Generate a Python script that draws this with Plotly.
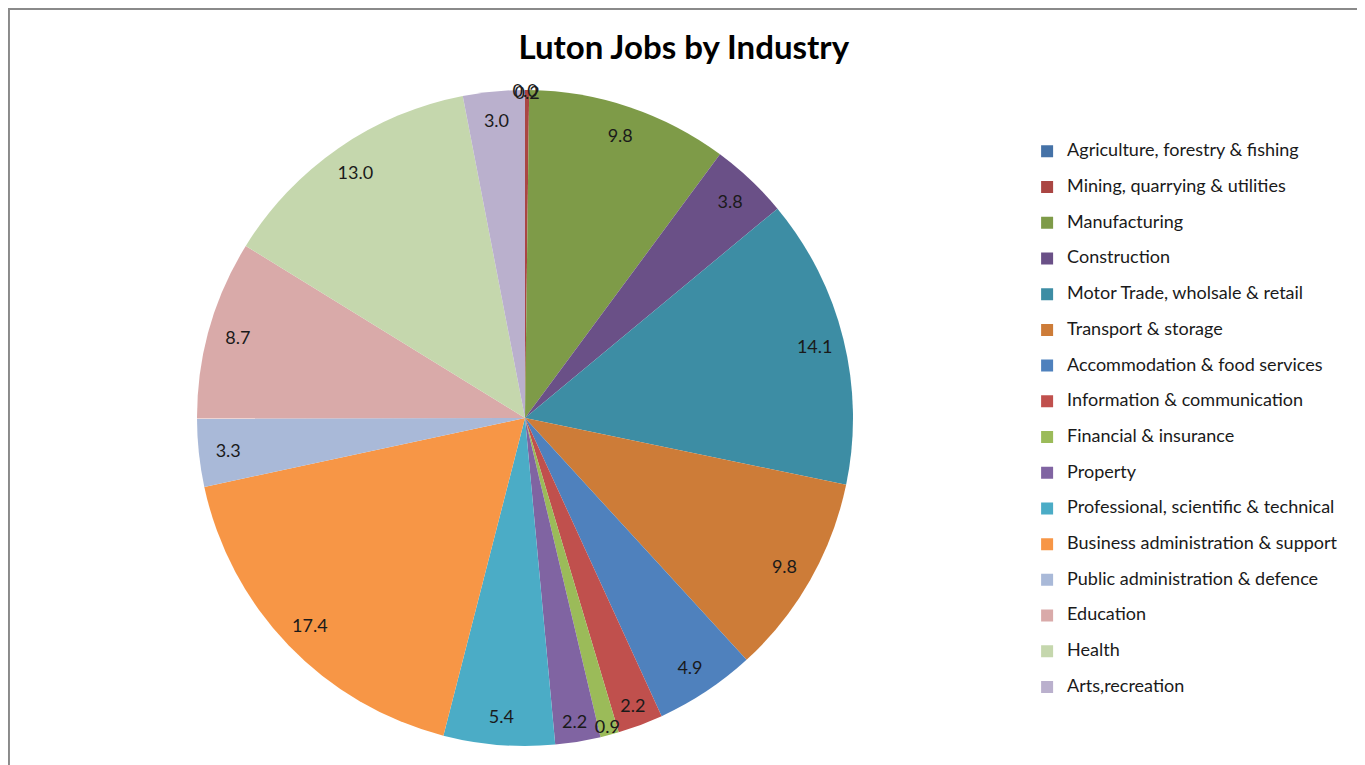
import plotly.graph_objects as go

categories = [
    "Agriculture, forestry & fishing",
    "Mining, quarrying & utilities",
    "Manufacturing",
    "Construction",
    "Motor Trade, wholsale & retail",
    "Transport & storage",
    "Accommodation & food services",
    "Information & communication",
    "Financial & insurance",
    "Property",
    "Professional, scientific & technical",
    "Business administration & support",
    "Public administration & defence",
    "Education",
    "Health",
    "Arts,recreation",
]
values = [0.0, 0.2, 9.8, 3.8, 14.1, 9.8, 4.9, 2.2, 0.9, 2.2, 5.4, 17.4, 3.3, 8.7, 13.0, 3.0]
colors = [
    "#4572A7", "#AA4643", "#7E9B48", "#6A5087", "#3D8DA4", "#CD7C38",
    "#4F81BD", "#C0504D", "#9BBB59", "#8064A2", "#4BACC6", "#F79646",
    "#A9B9D8", "#D9AAA9", "#C5D7AD", "#BAB0CD",
]

FONT = "Lato, Open Sans, sans-serif"
legend_labels = ["<span style='font-size:18px'>" + c + "</span><br>&nbsp;" for c in categories]
pie_domain = dict(x=[0.13928, 0.62270], y=[0.0251, 0.8917])

fig = go.Figure()
fig.add_trace(go.Pie(
    labels=legend_labels,
    values=values,
    sort=False,
    direction="clockwise",
    rotation=0,
    marker=dict(colors=colors, line=dict(width=0)),
    textinfo="none",
    hoverinfo="skip",
    domain=pie_domain,
    showlegend=True,
))
# transparent ring that carries the data labels near the outer edge
fig.add_trace(go.Pie(
    labels=categories,
    values=values,
    sort=False,
    direction="clockwise",
    rotation=0,
    hole=0.82,
    marker=dict(colors=["rgba(0,0,0,0)"] * len(values), line=dict(width=0)),
    texttemplate="%{value:.1f}",
    textposition="inside",
    insidetextorientation="horizontal",
    textfont=dict(family=FONT, size=18, color="#1a1a1a"),
    hovertemplate="%{label}: %{value:.1f}<extra></extra>",
    domain=pie_domain,
    showlegend=False,
))

fig.update_layout(
    width=1357, height=757,
    margin=dict(l=0, r=0, t=0, b=0),
    paper_bgcolor="white",
    title=dict(text="<b>Luton Jobs by Industry</b>", x=0.498, xanchor="center",
               y=0.9485, yanchor="middle",
               font=dict(family=FONT, size=33, color="#000000")),
    legend=dict(x=0.7510, xanchor="left", y=0.8300, yanchor="top",
                valign="top", traceorder="normal",
                font=dict(family=FONT, size=12.58, color="#1a1a1a"),
                bgcolor="rgba(0,0,0,0)", itemwidth=30),
    uniformtext=dict(minsize=18, mode="show"),
    shapes=[dict(type="rect", xref="paper", yref="paper", x0=0.0007, x1=0.99853,
                 y0=-0.02, y1=0.9987, line=dict(color="#8a8a8a", width=2),
                 fillcolor="rgba(0,0,0,0)", layer="below")],
)

fig.write_html("out.html")
